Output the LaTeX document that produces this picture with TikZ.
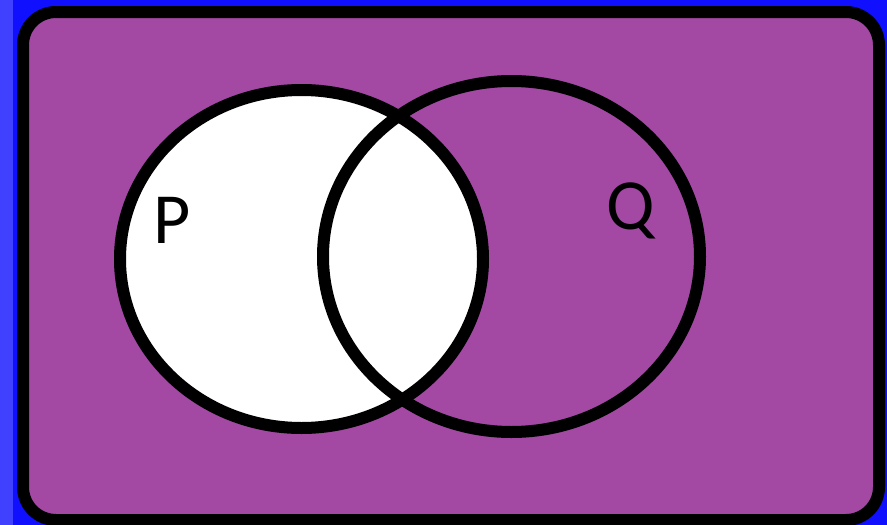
\documentclass[tikz,border=0pt]{standalone}
\usepackage{fontspec}
\setmainfont{Carlito}
\definecolor{vennpurple}{RGB}{163,73,164}
\definecolor{bgblue}{RGB}{16,16,255}

\begin{document}
\begin{tikzpicture}[x=1pt,y=-1pt]
    \path[use as bounding box] (0,0) rectangle (887,525);
    \tikzset{setline/.style={line width=12pt, draw=black},
             setlabel/.style={anchor=base west, inner sep=0pt,
                              font=\fontsize{72}{86}\selectfont}}

    \fill[bgblue] (0,0) rectangle (887,525);
    \fill[color=bgblue!80!white] (0,0) rectangle (13,525);

    % universal set
    \filldraw[setline, fill=vennpurple, rounded corners=33pt] (23,12) rectangle (879,520);

    \coordinate (cP) at (301.5,259);
    \coordinate (cQ) at (511.5,256.5);

    \fill[white] (cP) ellipse [x radius=181.5pt, y radius=169pt];
    \draw[setline] (cP) ellipse [x radius=181.5pt, y radius=169pt];
    \draw[setline] (cQ) ellipse [x radius=188.5pt, y radius=175.5pt];

    \node[setlabel] (labP) at (153,243) {P};
    \node[setlabel] (labQ) at (606,229) {Q};
\end{tikzpicture}
\end{document}
